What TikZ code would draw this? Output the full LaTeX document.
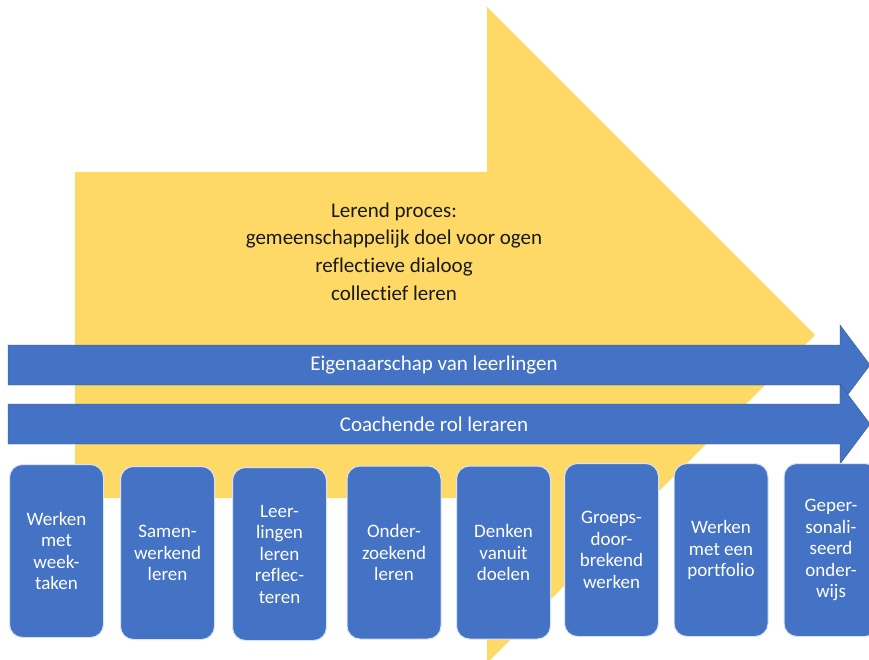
\documentclass[tikz,border=0pt]{standalone}
\usepackage{fontspec}
\setmainfont{Carlito}[Ligatures={NoCommon}]
\definecolor{gold}{HTML}{FFD966}
\definecolor{blu}{HTML}{4472C4}
\begin{document}
\begin{tikzpicture}[x=1pt,y=-1pt,
 box/.style={draw=white!80!blu, line width=1pt, fill=blu, rounded corners=13pt, minimum width=94pt, minimum height=173pt, align=center, text=white, font=\fontsize{19}{21.5}\selectfont, inner sep=0pt},
 band/.style={fill=blu, draw=blu!75!black, line width=0.4pt},
 bandtext/.style={text=white, font=\fontsize{21}{22}\selectfont, inner sep=0pt},
]
\useasboundingbox (0,0) rectangle (869,660);
\clip (0,0) rectangle (869,660);
% yellow arrow
\fill[gold] (75,172) -- (487,172) -- (487,7) -- (815,335) -- (487,663) -- (487,498) -- (75,498) -- cycle;
\node[font=\fontsize{21}{27.7}\selectfont, align=center, inner sep=0pt, text=black!90] (proc) at (394,251.5) {Lerend proces:\\gemeenschappelijk doel voor ogen\\reflectieve dialoog\\collectief leren};
% blue band arrows
\path[band] (8,345) -- (840,345) -- (840,325) -- (870,365) -- (840,405) -- (840,385) -- (8,385) -- cycle;
\node[bandtext] (eig) at (434,365) {Eigenaarschap van leerlingen};
\path[band] (8,404) -- (840,404) -- (840,384) -- (870,424) -- (840,464) -- (840,444) -- (8,444) -- cycle;
\node[bandtext] (coach) at (434,424) {Coachende rol leraren};
% boxes
\node[box] (b1) at (56.5,551) {Werken\\met\\week-\\taken};
\node[box] (b2) at (167.5,553) {Samen-\\werkend\\leren};
\node[box] (b3) at (279.5,554) {Leer-\\lingen\\leren\\reflec-\\teren};
\node[box] (b4) at (394,552.5) {Onder-\\zoekend\\leren};
\node[box] (b5) at (503.5,552.5) {Denken\\vanuit\\doelen};
\node[box] (b6) at (611.5,550) {Groeps-\\door-\\brekend\\werken};
\node[box] (b7) at (721,550) {Werken\\met een\\portfolio};
\node[box] (b8) at (831,550) {Geper-\\sonali-\\seerd\\onder-\\wijs};
\end{tikzpicture}
\end{document}
